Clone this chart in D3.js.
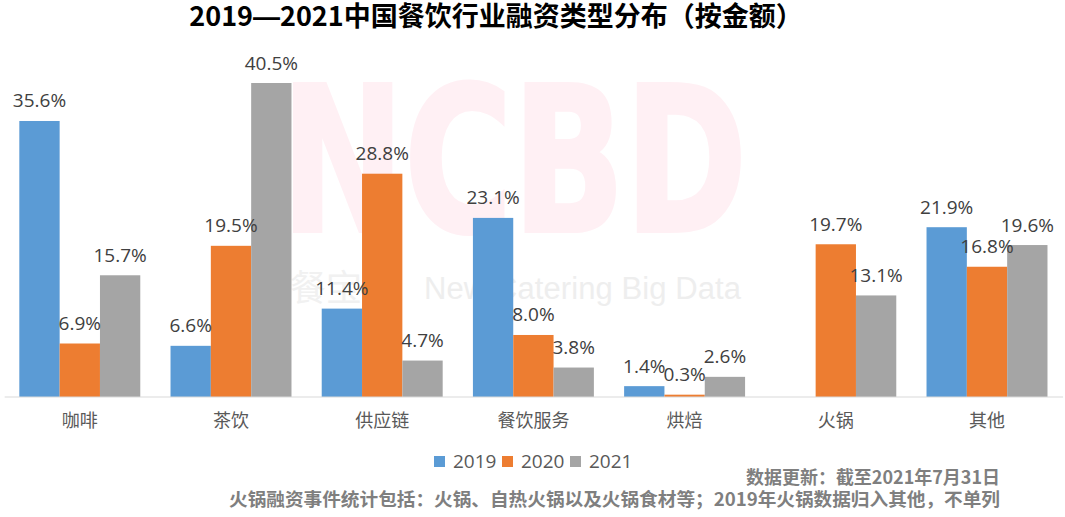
<!DOCTYPE html>
<html lang="zh-CN">
<head>
    <meta charset="UTF-8">
    <title>2019—2021中国餐饮行业融资类型分布（按金额）</title>
    <script src="https://d3js.org/d3.v7.min.js"></script>
    <style>
        html, body { margin: 0; padding: 0; background: #fff; }
        svg { display: block; }
        text { font-family: "Noto Sans CJK SC", "Noto Sans", sans-serif; }
        .num { font-family: "Open Sans", "Noto Sans CJK SC", sans-serif; font-size: 19px; }
    </style>
</head>
<body>
    <svg width="1065" height="517"></svg>
    <script>
        // Values, null = no bar
        const categories = ["咖啡", "茶饮", "供应链", "餐饮服务", "烘焙", "火锅", "其他"];
        const seriesNames = ["2019", "2020", "2021"];
        const values2019 = [35.6, 6.6, 11.4, 23.1, 1.4, null, 21.9];
        const values2020 = [6.9, 19.5, 28.8, 8.0, 0.3, 19.7, 16.8];
        const values2021 = [15.7, 40.5, 4.7, 3.8, 2.6, 13.1, 19.6];
        const seriesValues = [values2019, values2020, values2021];
        const seriesColors = ["#5b9bd5", "#ed7d31", "#a5a5a5"];

        const svg = d3.select("svg");
        const axisY = 396.5;

        const x = d3.scaleBand().domain(categories).range([4.2, 1062.6]).paddingInner(0.2).paddingOuter(0.1);
        const xInner = d3.scaleBand().domain(seriesNames).range([0, x.bandwidth()]);
        const y = d3.scaleLinear().domain([0, 40.5]).range([397, 83]);

        // Watermark sits behind the bars
        svg.append("text")
            .attr("x", 281).attr("y", 231)
            .attr("textLength", 466).attr("lengthAdjust", "spacingAndGlyphs")
            .attr("fill", "#fff0f4")
            .attr("stroke", "#fff0f4").attr("stroke-width", 4)
            .style("font-family", "'DejaVu Sans'").style("font-weight", 700).style("font-size", "202px")
            .text("NCBD");
        svg.append("text")
            .attr("x", 290).attr("y", 301)
            .attr("fill", "#f1f1f1")
            .style("font-size", "36px")
            .text("餐宝");
        svg.append("text")
            .attr("x", 424).attr("y", 299)
            .attr("textLength", 317)
            .attr("fill", "#eeeeee")
            .style("font-family", "'Liberation Sans'").style("font-size", "31px")
            .text("New Catering Big Data");

        // Title, the dash comes from a latin font so it stays heavy
        const title = svg.append("text")
            .attr("x", 496).attr("y", 26)
            .attr("text-anchor", "middle")
            .attr("fill", "#000")
            .style("font-size", "27px").style("font-weight", 700);
        title.append("tspan").text("2019");
        title.append("tspan").style("font-family", "'Liberation Sans'").text("—");
        title.append("tspan").text("2021中国餐饮行业融资类型分布（按金额）");

        // Bars
        const flat = seriesNames.flatMap((name, i) =>
            categories.map((cat, j) => ({ cat, name, color: seriesColors[i], value: seriesValues[i][j] }))
        ).filter(d => d.value !== null);

        svg.append("g").selectAll("rect")
            .data(flat)
            .join("rect")
            .attr("x", d => x(d.cat) + xInner(d.name))
            .attr("y", d => y(d.value))
            .attr("width", xInner.bandwidth())
            .attr("height", d => y(0) - y(d.value))
            .attr("fill", d => d.color);

        // X axis
        const xAxis = svg.append("g")
            .attr("transform", `translate(0,${axisY})`)
            .call(d3.axisBottom(x).tickSize(0).tickPadding(18));
        xAxis.select(".domain").attr("stroke", "#d9d9d9").attr("stroke-width", 1);
        xAxis.selectAll("text")
            .attr("fill", "#595959")
            .style("font-size", "18px");

        // Data labels
        svg.append("g").selectAll("text")
            .data(flat)
            .join("text")
            .attr("class", "num")
            .attr("x", d => x(d.cat) + xInner(d.name) + xInner.bandwidth() / 2)
            .attr("y", d => y(d.value) - 13.5)
            .attr("text-anchor", "middle")
            .attr("fill", "#404040")
            .text(d => d.value.toFixed(1) + "%");

        // Legend
        const legendX = d3.scalePoint().domain(seriesNames).range([434, 570]);
        const legend = svg.append("g").selectAll("g")
            .data(seriesNames)
            .join("g")
            .attr("transform", d => `translate(${legendX(d)},456)`);
        legend.append("rect")
            .attr("width", 11).attr("height", 11)
            .attr("fill", (d, i) => seriesColors[i]);
        legend.append("text")
            .attr("class", "num")
            .attr("x", 19).attr("y", 12)
            .attr("fill", "#595959")
            .text(d => d);

        // Notes, right aligned
        svg.append("text")
            .attr("x", 1000).attr("y", 484)
            .attr("text-anchor", "end")
            .attr("textLength", 254).attr("lengthAdjust", "spacingAndGlyphs")
            .attr("fill", "#7f7f7f")
            .style("font-size", "18px").style("font-weight", 700)
            .text("数据更新：截至2021年7月31日");
        svg.append("text")
            .attr("x", 1000).attr("y", 506)
            .attr("text-anchor", "end")
            .attr("textLength", 771).attr("lengthAdjust", "spacingAndGlyphs")
            .attr("fill", "#7f7f7f")
            .style("font-size", "18px").style("font-weight", 700)
            .text("火锅融资事件统计包括：火锅、自热火锅以及火锅食材等；2019年火锅数据归入其他，不单列");
    </script>
</body>
</html>
